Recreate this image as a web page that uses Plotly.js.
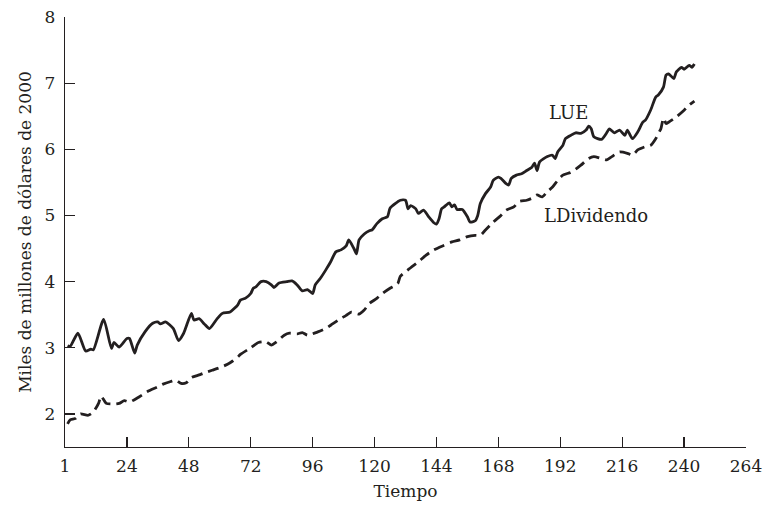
<!DOCTYPE html>
<html>
<head>
<meta charset="utf-8">
<script src="https://cdn.plot.ly/plotly-3.0.1.min.js"></script>
<style>html,body{margin:0;padding:0;background:#fff;}#chart{width:767px;height:510px;}</style>
</head>
<body>
<div id="chart"></div>
<script>
// Time index (month) and values
const lueT = [1,2,5,8,10,11,15,18,19,21,24,25,27,28,31,34,36,37,39,42,44,46,49,50,52,54,56,59,61,64,67,68,70,72,73,74,76,78,80,81,83,86,88,90,92,94,96,97,99,101,103,105,107,109,110,112,113,114,116,118,119,121,123,125,126,128,130,132,133,134,136,137,139,141,143,144,145,146,147,149,150,151,152,154,156,157,159,160,161,163,165,166,168,169,171,172,173,175,177,179,181,182,183,184,187,189,190,191,193,194,196,198,200,202,203,204,205,208,210,211,213,215,217,218,220,222,224,225,227,229,230,232,233,234,236,237,239,240,242,243,244];
const lueV = [3.03,3.02,3.22,2.95,2.98,2.97,3.43,2.99,3.08,3.01,3.14,3.14,2.92,3.04,3.24,3.37,3.39,3.36,3.39,3.29,3.11,3.22,3.52,3.42,3.44,3.36,3.29,3.44,3.52,3.54,3.65,3.72,3.75,3.82,3.90,3.92,4.00,4.00,3.95,3.91,3.98,4.00,4.01,3.95,3.86,3.88,3.82,3.95,4.05,4.17,4.30,4.45,4.48,4.54,4.63,4.50,4.42,4.63,4.72,4.77,4.78,4.88,4.95,4.98,5.11,5.18,5.23,5.23,5.10,5.15,5.10,5.03,5.08,4.98,4.89,4.87,4.95,5.10,5.13,5.19,5.13,5.16,5.09,5.09,4.98,4.90,4.92,5.00,5.18,5.33,5.43,5.53,5.58,5.56,5.48,5.46,5.56,5.61,5.63,5.68,5.73,5.79,5.68,5.81,5.89,5.91,5.86,5.96,6.06,6.16,6.21,6.25,6.24,6.29,6.35,6.31,6.19,6.15,6.25,6.31,6.25,6.29,6.21,6.29,6.16,6.26,6.41,6.44,6.59,6.79,6.82,6.94,7.12,7.14,7.07,7.17,7.24,7.21,7.27,7.24,7.29];

const divT = [1,2,4,6,9,11,13,14,16,19,21,23,25,28,30,32,36,38,41,43,45,47,49,52,54,57,60,63,65,67,68,72,75,78,80,82,85,87,90,92,94,98,101,103,106,109,111,114,116,118,121,123,126,129,130,134,137,140,143,147,150,153,156,159,161,163,166,169,171,174,176,179,181,183,185,187,189,191,193,196,198,200,203,205,208,210,212,215,218,220,222,225,227,229,230,231,232,233,234,237,240,242,244];
const divV = [1.85,1.91,1.93,2.00,1.98,2.03,2.16,2.27,2.16,2.15,2.16,2.20,2.18,2.24,2.29,2.34,2.41,2.45,2.49,2.51,2.46,2.47,2.55,2.59,2.62,2.66,2.70,2.75,2.80,2.86,2.90,3.00,3.08,3.09,3.04,3.09,3.19,3.22,3.21,3.23,3.19,3.24,3.29,3.34,3.42,3.49,3.54,3.51,3.57,3.67,3.75,3.82,3.90,3.97,4.08,4.21,4.30,4.40,4.48,4.55,4.60,4.63,4.68,4.70,4.70,4.78,4.90,5.00,5.08,5.13,5.21,5.23,5.26,5.31,5.28,5.36,5.43,5.53,5.61,5.65,5.70,5.76,5.86,5.89,5.86,5.84,5.89,5.96,5.94,5.91,5.99,6.04,6.06,6.16,6.24,6.31,6.47,6.39,6.41,6.49,6.59,6.67,6.73];

const xTickVals = [0,24,48,72,96,120,144,168,192,216,240,264];
const xTickText = ["1","24","48","72","96","120","144","168","192","216","240","264"];
const yTickVals = [2,3,4,5,6,7,8];
const seriesNames = ["LUE","LDividendo"];

const ink = '#231f20';
const fontFam = '"DejaVu Serif", "Liberation Serif", serif';

const traces = [
  {x: lueT, y: lueV, name: seriesNames[0], mode: 'lines', type: 'scatter',
   line: {color: ink, width: 2.8, shape: 'spline', smoothing: 0.6}},
  {x: divT, y: divV, name: seriesNames[1], mode: 'lines', type: 'scatter',
   line: {color: ink, width: 2.8, dash: '11px,6px', shape: 'spline', smoothing: 0.6}}
];

const layout = {
  width: 767, height: 510,
  margin: {l: 65, r: 21, t: 17, b: 63},
  paper_bgcolor: '#fff', plot_bgcolor: '#fff',
  showlegend: false,
  font: {family: fontFam, color: ink, size: 17},
  xaxis: {
    range: [0, 264], tickvals: xTickVals, ticktext: xTickText,
    ticks: 'inside', ticklen: 10, tickwidth: 1.3, tickcolor: ink,
    showline: true, linecolor: ink, linewidth: 1.3, showgrid: false, zeroline: false,
    tickfont: {family: fontFam, size: 17, color: ink},
    ticklabelstandoff: 3,
    title: {text: 'Tiempo', font: {family: fontFam, size: 17, color: ink}, standoff: 10}
  },
  yaxis: {
    range: [1.5, 8], tickvals: yTickVals,
    ticks: 'inside', ticklen: 10, tickwidth: 1.3, tickcolor: ink,
    showline: true, linecolor: ink, linewidth: 1.3, showgrid: false, zeroline: false,
    tickfont: {family: fontFam, size: 17, color: ink},
    ticklabelstandoff: 5,
    title: {text: 'Miles de millones de dólares de 2000', font: {family: fontFam, size: 17, color: ink}, standoff: 8}
  },
  annotations: [
    {x: 187, y: 6.55, xref: 'x', yref: 'y', text: seriesNames[0], showarrow: false,
     xanchor: 'left', yanchor: 'middle', font: {family: fontFam, size: 18, color: ink}},
    {x: 185, y: 5.0, xref: 'x', yref: 'y', text: seriesNames[1], showarrow: false,
     xanchor: 'left', yanchor: 'middle', font: {family: fontFam, size: 18, color: ink}}
  ]
};

Plotly.newPlot('chart', traces, layout, {displayModeBar: false, staticPlot: true});
</script>
</body>
</html>
